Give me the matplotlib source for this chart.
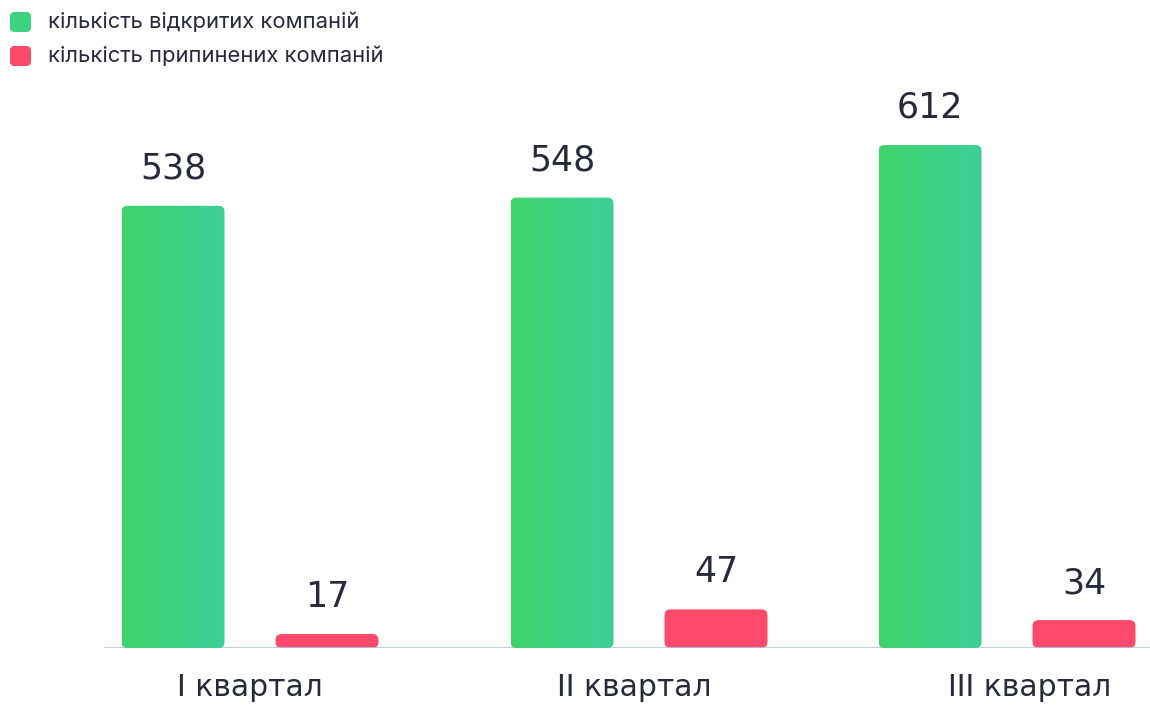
import matplotlib
matplotlib.use("Agg")

import numpy as np
import matplotlib.pyplot as plt
from matplotlib.patches import FancyBboxPatch
from matplotlib.colors import LinearSegmentedColormap

quarters = ["I квартал", "II квартал", "III квартал"]
opened = [538, 548, 612]
closed = [17, 47, 34]
series_names = ["кількість відкритих компаній", "кількість припинених компаній"]

# layout (x in pixel-like units across the figure width)
group_x = [250, 639, 1007]
label_x = [250, 634, 1030]
offset = 77
bar_w = 103
radius_px = 6

green_cmap = LinearSegmentedColormap.from_list("grn", ["#40d46c", "#3dcf98"])
red_color = "#ff4a6c"
text_color = "#262a3a"
big_font = ["DejaVu Sans"]

plt.rcParams["font.family"] = ["Inter", "DejaVu Sans"]

W, H, dpi = 1150, 705, 100
fig = plt.figure(figsize=(W / dpi, H / dpi), dpi=dpi)
base_px = 648
top_px = 100
ax = fig.add_axes([0, (H - base_px) / H, 1, (base_px - top_px) / H])
ax.set_xlim(0, W)
px_per_unit = 503 / 612
ax.set_ylim(0, (base_px - top_px) / px_per_unit)
ax.axis("off")

# y-units per pixel vs x-units per pixel
aspect = 1 / px_per_unit


def rounded_bar(x0, height, fill):
    patch = FancyBboxPatch((x0, 0), bar_w, height,
                           boxstyle=f"round,pad=0,rounding_size={radius_px}",
                           mutation_aspect=aspect, linewidth=0,
                           facecolor=fill if isinstance(fill, str) else "none")
    ax.add_patch(patch)
    if not isinstance(fill, str):
        grad = np.linspace(0, 1, 256).reshape(1, -1)
        im = ax.imshow(grad, cmap=fill, aspect="auto",
                       extent=(x0, x0 + bar_w, 0, height), zorder=2)
        im.set_clip_path(patch)
    return patch


for gx, v_open, v_closed in zip(group_x, opened, closed):
    xg = gx - offset - bar_w / 2
    xr = gx + offset - bar_w / 2
    rounded_bar(xg, v_open, green_cmap)
    rounded_bar(xr, v_closed, red_color)
    ax.text(gx - offset, v_open + 27 * aspect, str(v_open), ha="center", va="baseline",
            fontsize=25, color=text_color, family=big_font)
    ax.text(gx + offset, v_closed + 27 * aspect, str(v_closed), ha="center", va="baseline",
            fontsize=25, color=text_color, family=big_font)

# baseline
ax.plot([105, 1150], [0, 0], color="#b3c3e2", linewidth=1.2, zorder=1)

# category labels
for lx, lab in zip(label_x, quarters):
    ax.text(lx, -48 * aspect, lab, ha="center", va="baseline",
            fontsize=21.5, color=text_color, family=big_font)

ax.set_xlim(0, W)
ax.set_ylim(0, (base_px - top_px) / px_per_unit)

# legend
leg_colors = ["#3fd27e", red_color]
for i, (name, col) in enumerate(zip(series_names, leg_colors)):
    yc = 1 - (22 + i * 34) / H
    sq = FancyBboxPatch((10 / W, yc - 10 / H), 21 / W, 20 / H,
                        boxstyle="round,pad=0,rounding_size=0.004",
                        mutation_aspect=W / H, transform=fig.transFigure,
                        facecolor=col, linewidth=0)
    fig.patches.append(sq)
    fig.text(48 / W, yc, name, ha="left", va="center", fontsize=15.8, color=text_color)

fig.savefig("out.png", dpi=dpi, facecolor="white")
